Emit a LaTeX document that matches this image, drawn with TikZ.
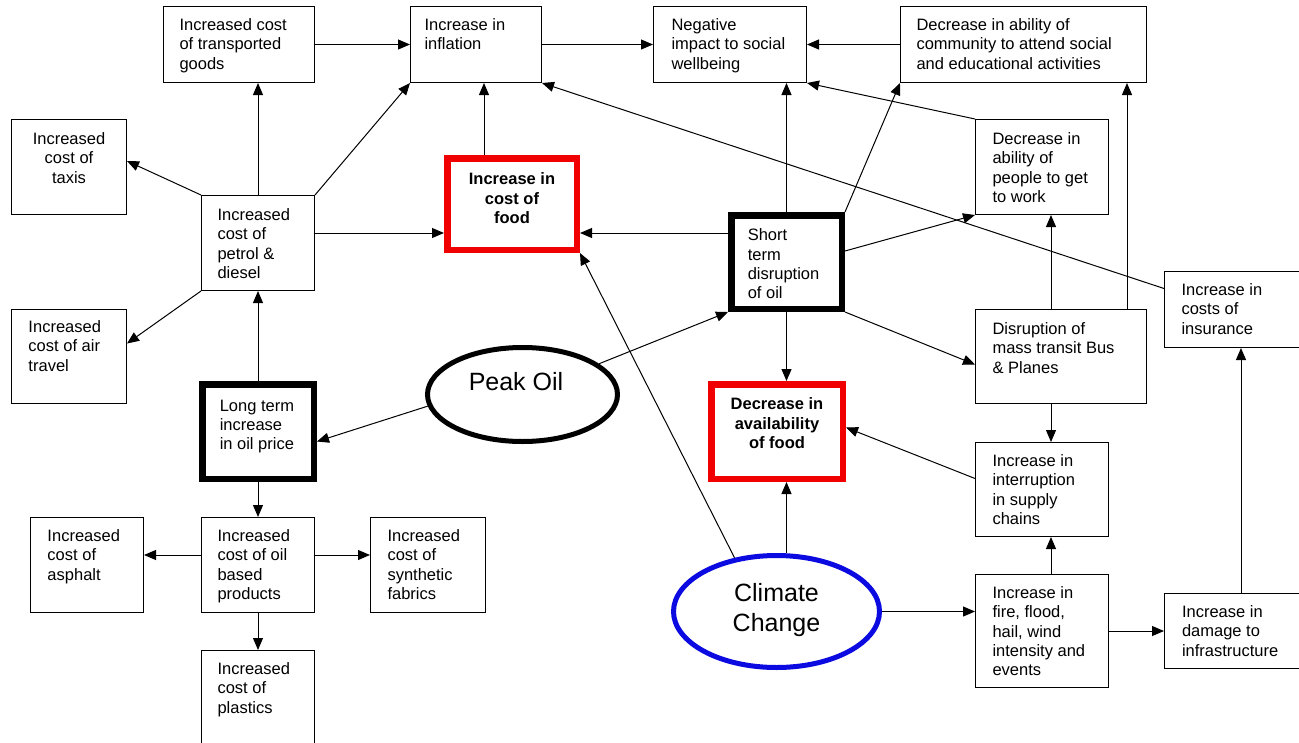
\documentclass[tikz,border=0pt]{standalone}
\usepackage{fontspec}
\setmainfont{Liberation Sans}
\usetikzlibrary{arrows.meta,shapes.geometric,calc}
\newcommand{\boxtxt}[5]{\parbox[c][#2pt][t]{#1pt}{\vspace*{#4pt}\raggedright\leftskip=#3pt\relax #5\par}}
\newcommand{\boxtxtc}[4]{\parbox[c][#2pt][t]{#1pt}{\vspace*{#3pt}\centering #4\par}}
\definecolor{ccblue}{RGB}{10,10,225}
\definecolor{ccred}{RGB}{240,0,0}
\begin{document}
\begin{tikzpicture}[x=1pt,y=-1pt,
  box/.style={draw, line width=1pt, inner sep=0pt, anchor=north west, font=\fontsize{16.5}{19.3}\selectfont},
  thickbox/.style={box, line width=6.5pt},
  redbox/.style={box, draw=ccred, line width=6.5pt, font=\fontsize{16.5}{19.3}\selectfont\bfseries},
  oval/.style={ellipse, draw, line width=5pt, inner sep=0pt},
  arr/.style={-{Triangle[length=12pt,width=10pt]}, line width=1pt}]
\useasboundingbox (0,0) rectangle (1299,742);
\fill[white] (0,0) rectangle (1299,742);
\clip (0,0) rectangle (1299,742);

% boxes
\node[box] (goods) at (163,6) {\boxtxt{151}{76}{16}{12}{Increased cost\\of transported\\goods}};
\node[box] (inflation) at (410,6) {\boxtxt{131}{76}{14}{12}{Increase in\\inflation}};
\node[box] (social) at (653,6) {\boxtxt{153}{76}{18}{12}{Negative\\impact to social\\wellbeing}};
\node[box] (community) at (900,6) {\boxtxt{246}{76}{16}{12}{Decrease in ability of\\community to attend social\\and educational activities}};
\node[box] (taxis) at (11,119) {\boxtxtc{115}{95}{13}{Increased\\cost of\\taxis}};
\node[box] (petrol) at (201,195) {\boxtxt{113}{95}{16}{13}{Increased\\cost of\\petrol \&\\diesel}};
\node[redbox] (foodcost) at (444,155) {\boxtxtc{129.5}{91.5}{14.5}{Increase in\\cost of\\food}};
\node[thickbox] (shortterm) at (728,212) {\boxtxt{110.5}{93.5}{16.5}{13.5}{Short\\term\\disruption\\of oil}};
\node[box] (people) at (975,119) {\boxtxt{133}{95}{17}{13}{Decrease in\\ability of\\people to get\\to work}};
\node[box] (airtravel) at (11,309) {\boxtxt{115}{94}{17}{11}{Increased\\cost of air\\travel}};
\node[thickbox] (longterm) at (199,381) {\boxtxt{111.5}{94.5}{17.5}{15.5}{Long term\\increase\\in oil price}};
\node[box] (transit) at (975,309) {\boxtxt{171}{94}{17}{13}{Disruption of\\mass transit Bus\\\& Planes}};
\node[box] (insurance) at (1164,271) {\boxtxt{150}{76}{17}{12}{Increase in\\costs of\\insurance}};
\node[redbox] (availability) at (708,381) {\boxtxtc{131.5}{94.5}{13.5}{Decrease in\\availability\\of food}};
\node[box] (supply) at (975,442) {\boxtxt{133}{94}{17}{12}{Increase in\\interruption\\in supply\\chains}};
\node[box] (asphalt) at (30,517) {\boxtxt{113}{95}{17}{12}{Increased\\cost of\\asphalt}};
\node[box] (oilprod) at (201,517) {\boxtxt{113}{95}{16}{12}{Increased\\cost of oil\\based\\products}};
\node[box] (synthetic) at (370,517) {\boxtxt{115}{95}{17}{12}{Increased\\cost of\\synthetic\\fabrics}};
\node[box] (plastics) at (201,650) {\boxtxt{113}{110}{16}{12}{Increased\\cost of\\plastics}};
\node[box] (fire) at (975,574) {\boxtxt{133}{113}{17}{12}{Increase in\\fire, flood,\\hail, wind\\intensity and\\events}};
\node[box] (damage) at (1164,593) {\boxtxt{150}{75}{17.5}{12}{Increase in\\damage to\\infrastructure}};

% ellipses
\node[oval, minimum width=190pt, minimum height=94pt] (peakoil) at (522.5,394.5) {};
\node[font=\fontsize{25}{30}\selectfont] (peaktext) at (516,381.5) {Peak Oil};
\node[oval, draw=ccblue, minimum width=206pt, minimum height=112pt] (climate) at (776.5,611.5) {};
\node[font=\fontsize{25}{30}\selectfont, align=center] (climatetext) at (776.5,610) {Climate\\Change};

% reference lines
\coordinate (hFood) at (0,233);
\coordinate (hOil) at (0,555);
\coordinate (vInf) at (484,0);
\coordinate (vA) at (1051,0);
\coordinate (vB) at (1127,0);
\coordinate (vC) at (1241,0);

% connectors
\draw[arr] (goods.east) -- (inflation.west);
\draw[arr] (inflation.east) -- (social.west);
\draw[arr] (community.west) -- (social.east);
\draw[arr] (petrol.north) -- (petrol.north |- goods.south);
\draw[arr] (petrol.north east) -- (inflation.south west);
\draw[arr] (petrol.north west) -- ($(taxis.east)+(0,-6)$);
\draw[arr] (petrol.south west) -- ($(airtravel.east)+(0,-13)$);
\draw[arr] (petrol.east |- hFood) -- (foodcost.west |- hFood);
\draw[arr] (vInf |- foodcost.north) -- (vInf |- inflation.south);
\draw[arr] (shortterm.west |- hFood) -- (foodcost.east |- hFood);
\draw[arr] (shortterm.north) -- (shortterm.north |- social.south);
\draw[arr] (shortterm.north east) -- (community.south west);
\draw[arr] ($(shortterm.east)+(0,-11)$) -- (people.south west);
\draw[arr] (shortterm.south east) -- ($(transit.west)+(0,8)$);
\draw[arr] (shortterm.south) -- (shortterm.south |- availability.north);
\draw[arr] (people.north west) -- (social.south east);
\draw[arr] (vA |- transit.north) -- (vA |- people.south);
\draw[arr] (vB |- transit.north) -- (vB |- community.south);
\draw[arr] (vA |- transit.south) -- (vA |- supply.north);
\draw[arr] ($(insurance.west)+(0,-21)$) -- (inflation.south east);
\draw[arr] (peakoil) -- (shortterm.south west);
\draw[arr] (peakoil.187) -- ($(longterm.east)+(0,10)$);
\draw[arr] (longterm.north) -- (longterm.north |- petrol.south);
\draw[arr] (longterm.south) -- (longterm.south |- oilprod.north);
\draw[arr] (oilprod.west |- hOil) -- (asphalt.east |- hOil);
\draw[arr] (oilprod.east |- hOil) -- (synthetic.west |- hOil);
\draw[arr] (oilprod.south) -- (plastics.north);
\draw[arr] (climate.128) -- (foodcost.south east);
\draw[arr] (shortterm.south |- climate.north) -- (shortterm.south |- availability.south);
\draw[arr] (climate.east) -- (climate.east -| fire.west);
\draw[arr] (vA |- fire.north) -- (vA |- supply.south);
\draw[arr] (fire.east) -- (damage.west);
\draw[arr] (vC |- damage.north) -- (vC |- insurance.south);
\draw[arr] ($(supply.west)+(0,-11)$) -- ($(availability.east)+(0,-4)$);
\end{tikzpicture}
\end{document}
